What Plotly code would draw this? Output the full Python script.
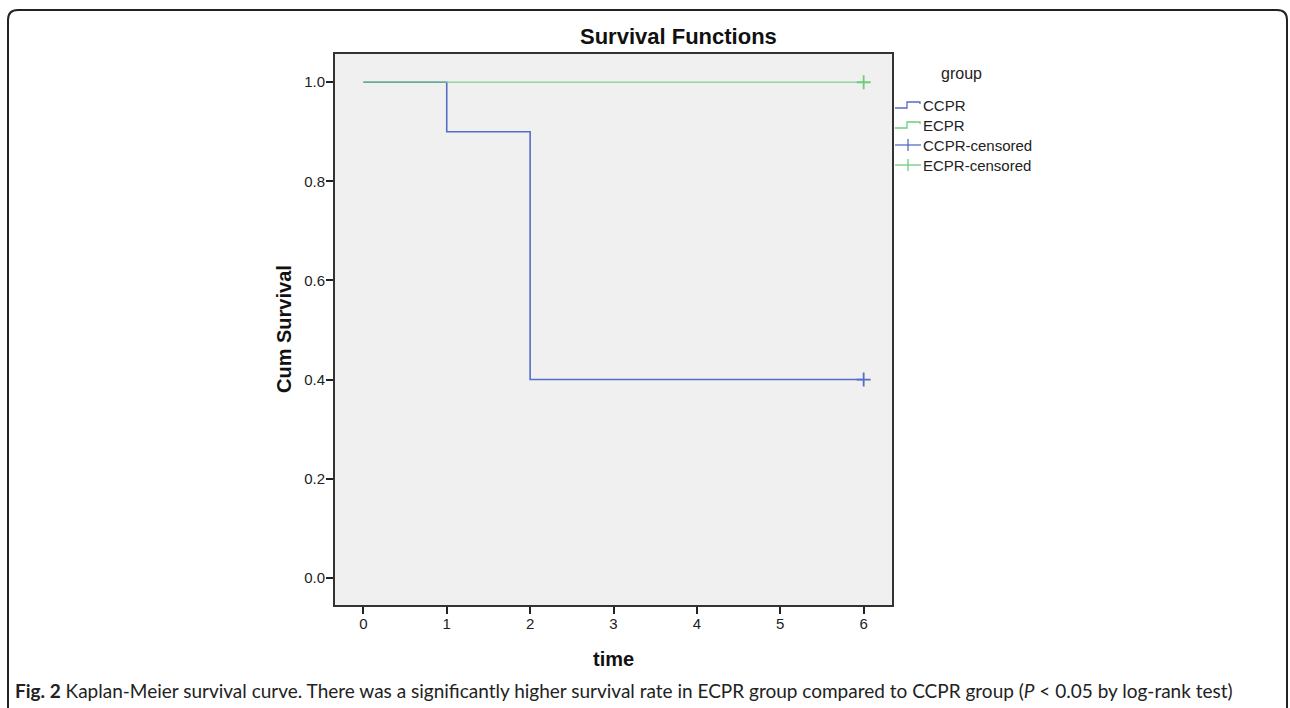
import plotly.graph_objects as go

# ---- data ----
groups = ["CCPR", "ECPR"]
ccpr_time = [0, 1, 2, 6]
ccpr_surv = [1.0, 0.9, 0.4, 0.4]
ecpr_time = [0, 6]
ecpr_surv = [1.0, 1.0]
ccpr_cens_time = [6]
ccpr_cens_surv = [0.4]
ecpr_cens_time = [6]
ecpr_cens_surv = [1.0]
x_ticks = [0, 1, 2, 3, 4, 5, 6]
y_ticks = [0.0, 0.2, 0.4, 0.6, 0.8, 1.0]
y_tick_labels = ["0.0", "0.2", "0.4", "0.6", "0.8", "1.0"]
legend_labels = ["CCPR", "ECPR", "CCPR-censored", "ECPR-censored"]

BLUE = "rgb(84,110,198)"
GREEN = "rgb(110,205,125)"
FONT = "Liberation Sans, Arial"

W, H = 1290, 708
L, R, T, B = 335, 892, 54, 605

def px(x):
    return (x - L) / (R - L)

def py(y):
    return (B - y) / (B - T)

fig = go.Figure()
fig.add_trace(go.Scatter(x=ccpr_time, y=ccpr_surv, mode="lines", line=dict(color=BLUE, width=1.6, shape="hv"),
                         name="CCPR", showlegend=False))
fig.add_trace(go.Scatter(x=ecpr_time, y=ecpr_surv, mode="lines", line=dict(color=GREEN, width=1.6, shape="hv"),
                         opacity=0.7, name="ECPR", showlegend=False))
fig.add_trace(go.Scatter(x=ccpr_cens_time, y=ccpr_cens_surv, mode="markers",
                         marker=dict(symbol="cross-thin", size=10, line=dict(color=BLUE, width=1.8)),
                         name="CCPR-censored", showlegend=False))
fig.add_trace(go.Scatter(x=ecpr_cens_time, y=ecpr_cens_surv, mode="markers",
                         marker=dict(symbol="cross-thin", size=10, line=dict(color=GREEN, width=1.8)),
                         name="ECPR-censored", showlegend=False))

shapes = []
annotations = []

# outer rounded frame
x0, x1, yt, yb, r = 8, 1287, 10, 730, 10
path = (f"M {px(x0)},{py(yb)} L {px(x0)},{py(yt + r)} Q {px(x0)},{py(yt)} {px(x0 + r)},{py(yt)} "
        f"L {px(x1 - r)},{py(yt)} Q {px(x1)},{py(yt)} {px(x1)},{py(yt + r)} L {px(x1)},{py(yb)}")
shapes.append(dict(type="path", xref="paper", yref="paper", path=path,
                   line=dict(color="#222", width=2)))

# manual legend
annotations.append(dict(x=px(961), y=py(74), xref="paper", yref="paper", text="group", showarrow=False,
                        font=dict(family=FONT, size=16, color="#222"),
                        xanchor="center", yanchor="middle"))
leg_colors = [BLUE, GREEN, BLUE, GREEN]
leg_rows = [105, 125, 145, 165]
for i, (lab, col, yy) in enumerate(zip(legend_labels, leg_colors, leg_rows)):
    if i < 2:
        p = (f"M {px(895)},{py(yy + 3)} L {px(907)},{py(yy + 3)} L {px(907)},{py(yy - 3)} "
             f"L {px(920)},{py(yy - 3)} L {px(920)},{py(yy - 1)}")
        shapes.append(dict(type="path", xref="paper", yref="paper", path=p, line=dict(color=col, width=1.3)))
    else:
        shapes.append(dict(type="line", xref="paper", yref="paper", x0=px(895), x1=px(921),
                           y0=py(yy), y1=py(yy), line=dict(color=col, width=1.3)))
        shapes.append(dict(type="line", xref="paper", yref="paper", x0=px(908), x1=px(908),
                           y0=py(yy - 6), y1=py(yy + 6), line=dict(color=col, width=1.3)))
    annotations.append(dict(x=px(921), y=py(yy), xref="paper", yref="paper", text=lab, showarrow=False,
                            font=dict(family=FONT, size=15, color="#222"),
                            xanchor="left", yanchor="middle"))

# title & axis titles
annotations.append(dict(x=px(678), y=py(37), xref="paper", yref="paper", text="<b>Survival Functions</b>",
                        showarrow=False, font=dict(family=FONT, size=22, color="#111"),
                        xanchor="center", yanchor="middle"))
annotations.append(dict(x=px(284), y=py(329), xref="paper", yref="paper", text="<b>Cum Survival</b>",
                        showarrow=False, textangle=-90,
                        font=dict(family=FONT, size=20, color="#111"),
                        xanchor="center", yanchor="middle"))
annotations.append(dict(x=px(613), y=py(659), xref="paper", yref="paper", text="<b>time</b>",
                        showarrow=False, font=dict(family=FONT, size=20, color="#111"),
                        xanchor="center", yanchor="middle"))

# caption
annotations.append(dict(x=px(13), y=py(690), xref="paper", yref="paper",
                        text="<b>Fig. 2</b> Kaplan-Meier survival curve. There was a significantly higher survival rate "
                             "in ECPR group compared to CCPR group (<i>P</i> < 0.05 by log-rank test)",
                        showarrow=False, font=dict(family="Lato, Open Sans", size=19, color="#222"),
                        xanchor="left", yanchor="middle"))

fig.update_layout(
    width=W, height=H,
    margin=dict(l=L, r=W - R, t=T, b=H - B, pad=0),
    paper_bgcolor="white", plot_bgcolor="#f0f0f0",
    showlegend=False,
    shapes=shapes, annotations=annotations,
    xaxis=dict(range=[-0.34, 6.34], tickvals=x_ticks, ticks="outside", ticklen=7, tickwidth=1.5,
               tickcolor="#222", showline=True, linecolor="#333", linewidth=2, mirror=True,
               showgrid=False, zeroline=False, ticklabelstandoff=-3,
               tickfont=dict(family=FONT, size=15, color="#222")),
    yaxis=dict(range=[-0.055, 1.057], tickvals=y_ticks, ticktext=y_tick_labels, ticks="outside",
               ticklen=7, tickwidth=1.5, tickcolor="#222", showline=True, linecolor="#333", linewidth=2,
               mirror=True, showgrid=False, zeroline=False, ticklabelstandoff=-2,
               tickfont=dict(family=FONT, size=15, color="#222")),
)

fig.write_html("out.html")
